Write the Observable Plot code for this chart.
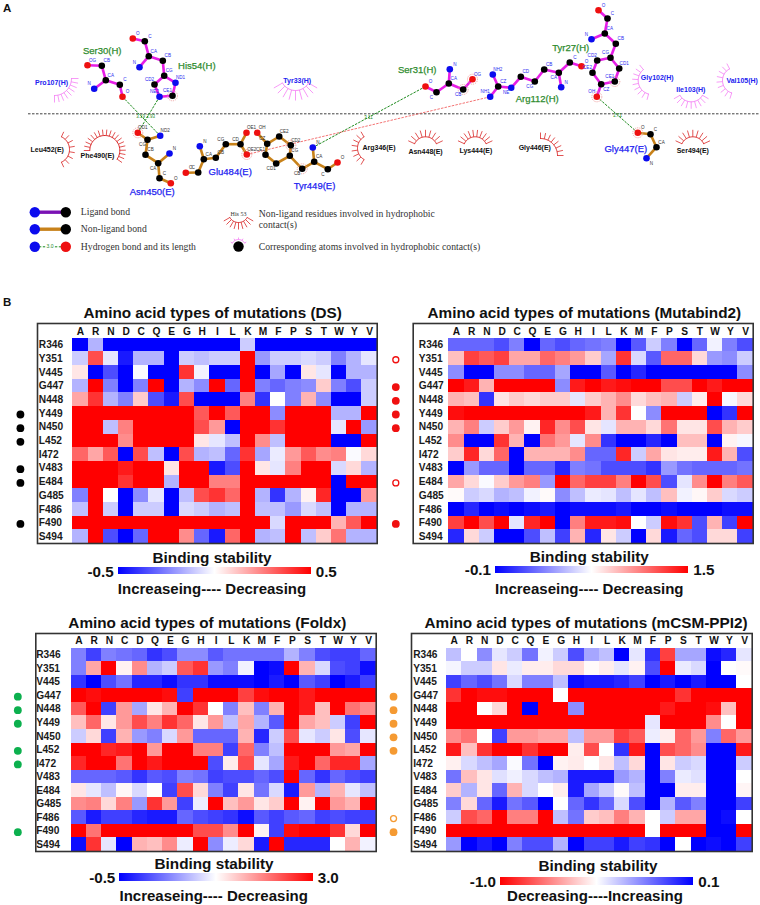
<!DOCTYPE html>
<html>
<head>
<meta charset="utf-8">
<script src="https://cdn.jsdelivr.net/npm/d3@7"></script>
<script src="https://cdn.jsdelivr.net/npm/@observablehq/plot@0.6"></script>
<style>
html,body{margin:0;padding:0;background:#fff;}
#page{position:relative;width:760px;height:905px;overflow:hidden;font-family:"Liberation Sans",Arial,sans-serif;}
#page svg{position:absolute;}
.t{position:absolute;white-space:nowrap;font-weight:bold;color:#111;line-height:1;}
.bar{position:absolute;}
</style>
</head>
<body>
<div id="page"></div>
<script>
/* ---------- heat-map categories ---------- */
const siteLabels = ["R346","Y351","V445","G447","N448","Y449","N450","L452","I472","V483","E484","G485","F486","F490","S494"];
const mutantsStd = ["A","R","N","D","C","Q","E","G","H","I","L","K","M","F","P","S","T","W","Y","V"];
const mutantsFoldx = ["A","R","N","C","D","Q","E","G","H","I","L","K","M","F","P","S","T","W","Y","V"];

/* ---------- heat-map readings, in tenths of the colour bar's half range:
   +10 full red, 0 white, -10 full blue ---------- */
const dsLevels = [
[-10,-3,-10,-10,-10,-10,-10,-10,-10,-10,-10,-2,-10,-10,-10,-10,-10,-10,-10,-10],
[-2,7,-1,-9,-3,-3,-10,-2,-2.5,-2,-2,10,-4,-2,-2,-1.5,-2,-5,-3,-1],
[1,-10,-7,-10,-0.2,-10,-10,8,-0.5,-10,-10,10,-10,-3.5,-10,1,-1,-10,-3,-3],
[-3,10,-5,-10,-5,10,-10,-3,-4.5,10,-6,10,-5,-6,-5,-4.5,2,-5,-7,-2],
[3.5,8,-3,-5,2,-7,-9,7,-10,-10,-10,5,-8,0,-5,3,-4.5,-10,-10,-2],
[10,10,10,10,10,10,10,10,6.5,10,6.5,10,10,-4.5,10,10,10,-3,-3,10],
[10,10,-2.5,5,10,10,10,10,7,4,-10,10,10,8,10,10,10,-1,10,-4],
[10,10,10,4.5,10,10,10,10,1,-1,-2.5,10,4.5,-2.5,10,10,10,-10,-10,10],
[6,3.5,6.5,-10,7,-2.5,-10,7,-3,-2.5,-6,8,-3.5,-0.8,4,6.5,4.5,5,-0.2,1.5],
[10,10,10,9,10,10,1,10,10,-9,-7,10,1,-1,5,10,10,-1.5,1.5,-3],
[10,10,10,8,10,10,-3,10,10,5,5,10,10,10,10,10,10,-10,10,10],
[-5,10,0,-10,-4.5,-1,-10,-2.5,7,8,6,10,-3,-8,-3,0.5,8.5,-10,-10,4],
[-2.5,10,-2,-10,-2,-2,-10,-1.5,-2,-3,-2.5,10,-2.5,-2.5,-4,-1.5,-2.5,-10,-3,-3],
[10,10,10,10,10,10,10,10,10,10,10,10,10,-1.5,10,10,10,3,6.5,10],
[-3,10,-7,-10,-6,10,10,4.5,-6,-9,6,10,-3,-2.5,10,-2.5,2,5.5,-3,-3]];

const mutabindLevels = [
[-6,-6,-6,-7,-5,-10,-6,-7,-6,-5.5,-5,-10,-6.5,-2,-5,-10,-6,-0.5,-5,-7],
[2.5,7.5,6.5,7.5,3.5,3.5,6,5,4,2,-3.5,8,-1.5,-6.5,6,6,1.5,-4,-4.5,-2],
[-4.5,-10,-10,-4.5,-4.5,-6,-6,-3.5,-10,-10,-6.5,-10,-8.5,-10,-10,-10,-10,-10,-10,-4.5],
[10,9,3,10,10,10,10,-4.5,9,10,9,9.5,10,10,7,7,10,9,10,10],
[3,2.5,-8,1,2,1.5,2,2,-1,2,3,4.5,1.5,2.5,3,-2,0.7,10,-0.3,1.5],
[9.5,10,10,10,10,10,10,10,10,9,3,8,0,-4.5,10,10,10,-10,-8,10],
[3,5,-2,2,4,0.5,8.5,4.5,7,1,-1,3,3,1.5,5.5,1,1,7,3,2],
[4.5,-10,-10,8,3,-10,5.5,4,-1,4.5,-8,-10,-10,-8.5,-10,2.5,2.5,-10,0.5,-0.3],
[2,8.5,1.5,6,-10,3,3,3,4.5,-6,-6,8.5,-2,3.5,1,0.7,0.7,9,3,-7],
[-10,-4,-6,-6,-10,-6,-6,-8.5,-5,-5.5,-7,-7,-7,-8,-4,-5.5,-6,-6,-6,-5.5],
[3.5,1.5,-0.2,2,4,5,-4,10,6,7.5,7.5,5,10,7,-7,-1,4.5,10,5,6.5],
[0.2,-2,-1.5,-3,-2.5,-0.5,0.2,-4.5,-2.5,-0.8,-1,-2.5,-1,-2.5,2.5,-0.5,0.3,2,-1.5,-2],
[-10,-8.5,-10,-9.5,-10,-9.5,-9,-10,-9.5,-9.5,-9.5,-9,-10,-10,-9.5,-10,-10,-10,-9.5,-9.5],
[7.5,10,7,10,-1,8.5,10,-10,5,9,9,9.5,0,-2,9.5,8,-7,3,-7.5,10],
[-8.5,1.5,-2,-10,-10,-7,-2.5,-7.5,3,-8.5,1,-2,-10,1.5,-9,-6,-7,1.5,1.5,-7.5]];

const foldxLevels = [
[-5,-7.5,-5,-5.5,-6,-8,-7,-4.5,-4.5,-6.5,-5.5,-5.5,-5.5,-5.5,-3,-5,-7,-7.5,-7.5,-6],
[-5,3.5,10,0.5,4.5,-3,-2,6.5,8,-4,-5,-0.5,-10,-9.5,10,3,-1.5,-7,-7.5,-9.5],
[-8,-10,-7,-5.5,-8.5,-8.5,-9.5,-8,-8,-9.5,-9.5,-9.5,-10,-9,-10,-6.5,-7.5,-10,-9,-7.5],
[10,9.5,10,10,10,10,9.5,-7.5,10,10,10,7.5,9.5,10,10,9,10,10,10,10],
[6.5,10,-7.5,4,-3.5,1,3,10,8,0,-5,2.5,-5,3,10,9,2.5,10,5.5,4.5],
[2.5,6,1,4,7,5,8,6,1,4,-2.5,3.5,-3,-6.5,10,3.5,2.5,-2,-7.5,10],
[-2,1.5,-7.5,3,-4,-5,-1.5,4,-6,-6,-6,3,-8.5,-2,7,-1,-2,1,-7,-1],
[10,10,8.5,9,10,4,10,10,5,5,-7.5,6,-5,-2.5,10,10,10,4,3.5,10],
[8.5,10,10,5.5,10,9,10,10,10,-7,0.8,7,-1,-3.5,9,10,6,8.5,8.5,-3.5],
[-6,-6,-6,-6.5,-8,-6.5,-7,-5,-5.5,-7.5,-7,-7,-6,-7,10,-6,-8,-6,-7,-7.5],
[1,-1,-2.5,0.3,-1.5,0,-7.5,7,1.5,-5,-7.5,1,-5.5,-1.5,-9,4,-3,3,-1,-2.5],
[4.5,5,1.5,5,-4,8,4,-7.5,-0.7,10,2.5,4,1,2,10,0.5,10,4,3,10],
[-6.5,-9,-7.5,-7.5,-8.5,-9,-9,-6,-7,-7.5,-8,-9.5,-6.5,-7.5,-6.5,-6,-7.5,-7,-7.5,-7.5],
[10,5.5,10,10,10,10,10,10,7,7,4.5,10,0.5,-7.5,9.5,10,10,8,1.5,10],
[-9.5,8,-1,-10,3,2.5,4.5,-0.7,10,-4.5,-0.7,1.5,-9,10,-8.5,-8.5,-8.5,0,3,-0.5]];

const mcsmLevels = [
[-2.5,0,-4.5,-1,-2,-5.5,-0.5,-2,-7,-3.5,-2.5,-10,-1,-8,7.5,-3.5,-3.5,-9.5,-8.5,-1],
[-0.4,-2,-2,1,-0.8,0.7,0.7,1.5,1.5,0.2,0.7,-1,0.5,-7,10,-0.8,-1.5,-10,0,0.2],
[-7.5,-6,-7,-5.5,-1.5,-5,-5,-2.5,-9.5,-9,-9,-8.5,-7.5,-10,-9,-10,-9,-10,-10,0],
[8,10,9.5,9.5,10,10,10,0,10,10,10,10,10,10,10,8,10,10,10,10],
[10,10,0,1.5,10,-10,10,10,-4.5,10,10,10,10,10,9,10,10,9.5,2.5,10],
[10,10,10,10,10,10,10,10,10,10,10,10,10,-1,10,10,10,4.5,0,10],
[4.5,5.5,0,-7.5,4,4,3.5,3.5,-2.5,4,4,7.5,6.5,-0.7,0.7,6,4,-5,6,4],
[9,2.5,8,10,10,8,10,10,0.7,7,0,-8,9,-10,7,6,4.5,-10,-10,9],
[0.6,-1.5,-2.5,-3.5,-0.2,-5.5,-10,0.5,0.8,0,1,-2.5,1.5,-10,1,-2,-1.5,-10,-10,-2],
[-5.5,2.5,1,-1.2,-0.6,-1.5,-2.5,-3,-9,-9,-9,-4,-3,-10,-5,-0.8,-1.2,-10,-10,0],
[2,-3,1,-6,3,-1.5,0,0.7,-9,-3.5,-2,0.2,-2.5,-10,-10,0.7,0.7,-10,-10,0.4],
[-5,1.5,-6,-9,-5.5,-6.5,-10,0,-6,-8,-6,-1.5,-7,-10,-3,-6.5,-5,-10,-10,-7.5],
[-2,7,6,10,5,5,10,-2.5,-5.5,2,2.5,5,3,0,-2,3.5,3.5,-10,-9.5,0],
[10,10,10,10,10,10,10,10,10,10,10,10,10,0,10,10,10,-10,-10,10],
[-4,-10,-9,-10,-5,-7,-7,-3,-10,-7.5,-7.5,-9,-7.5,-8,-10,0,-10,-9.5,-10,-7.5]];

/* ---------- sites flagged beside each heat map ---------- */
const dsSolid = ["Y449","N450","L452","V483","E484","F490"];
const mutabindSolid = ["G447","N448","Y449","N450","F490"];
const mutabindHollow = ["Y351","E484"];
const foldxSolid = ["G447","N448","Y449","L452","I472","F490"];
const mcsmSolid = ["G447","N448","Y449","N450","L452","F490"];
const mcsmHollow = ["F486"];

/* ---------- panel A: residues as drawn in the schematic (x, y in picture pixels) ---------- */
const ser30 = [["OG","O",87,64.7,"R"],["CB","C",101.3,65.3,"R"],["CA","C",105.3,79.7,"R"],["N","N",93.7,88.3,"L"],["C","C",119.3,84.3,"R"],["O","O",122,96.3,"R"]];
const ser30Bonds = [["OG","CB"],["CB","CA"],["CA","N"],["CA","C"],["C","O"]];
const his54 = [["O","O",132.3,38,"R"],["C","C",144.3,40.7,"R"],["CA","C",148.3,55.7,"R"],["N","N",139,66.7,"L"],["CB","C",162.3,60.3,"R"],["CG","C",163.7,75.3,"R"],["CD2","C",154,84,"L"],["NE2","N",159,96.3,"L"],["CE1","C",172,95.3,"L"],["ND1","N",175,82.3,"R"]];
const his54Bonds = [["O","C"],["C","CA"],["CA","N"],["CA","CB"],["CB","CG"],["CG","CD2"],["CD2","NE2"],["NE2","CE1"],["CE1","ND1"],["ND1","CG"]];
const ser31 = [["N","N",449.3,68.7,"R"],["CA","C",448.3,83,"R"],["O","O",425,86,"R"],["C","C",436,91.7,"BL"],["CB","C",462.7,89,"BL"],["OG","O",472,78.7,"R"]];
const ser31Bonds = [["N","CA"],["CA","C"],["C","O"],["CA","CB"],["CB","OG"]];
const arg112 = [["NH2","N",492.3,74,"R"],["CZ","C",497.7,86,"R"],["NH1","N",489.7,96.3,"L"],["NE","N",510.7,87.3,"BL"],["CD","C",520.3,76.3,"R"],["CG","C",534.3,81,"BL"],["CB","C",543.7,69,"R"],["CA","C",558.3,72.3,"BL"],["N","N",560.7,86.7,"R"],["C","C",569.3,62,"R"],["O","O",581,65.7,"R"]];
const arg112Bonds = [["NH2","CZ"],["NH1","CZ"],["CZ","NE"],["NE","CD"],["CD","CG"],["CG","CB"],["CB","CA"],["CA","N"],["CA","C"],["C","O"]];
const tyr27 = [["O","O",598,9.7,"R"],["C","C",607,18,"R"],["CA","C",604.3,33,"R"],["N","N",591,38.7,"L"],["CB","C",615.3,43.3,"R"],["CG","C",610,57.3,"L"],["CD2","C",596.7,60,"L"],["CE2","C",592,72.3,"L"],["CZ","C",600.7,83.7,"BR"],["CE1","C",614.3,81,"L"],["CD1","C",618.7,68,"R"],["OH","O",596.3,96.3,"L"]];
const tyr27Bonds = [["O","C"],["C","CA"],["CA","N"],["CA","CB"],["CB","CG"],["CG","CD2"],["CD2","CE2"],["CE2","CZ"],["CZ","CE1"],["CE1","CD1"],["CD1","CG"],["CZ","OH"]];
const asn450 = [["OD1","O",137.3,132.3,"R"],["ND2","N",159.7,135.3,"R"],["CG","C",147,139.3,"BL"],["CB","C",145,154.3,"R"],["CA","C",157.7,162.7,"BL"],["N","N",169,153,"R"],["C","C",159,177.7,"R"],["O","O",170.3,182.7,"R"]];
const asn450Bonds = [["OD1","CG"],["ND2","CG"],["CG","CB"],["CB","CA"],["CA","N"],["CA","C"],["C","O"]];
const glu484 = [["O","O",185.3,172.3,"R"],["C","C",197.7,172,"L"],["CA","C",203.3,158.7,"R"],["N","N",199.3,145.7,"R"],["CB","C",215.3,157.3,"R"],["CG","C",225.3,143.7,"L"],["CD","C",240,143.7,"L"],["OE1","O",246,132.3,"R"],["OE2","O",246.3,154,"R"]];
const glu484Bonds = [["O","C"],["C","CA"],["CA","N"],["CA","CB"],["CB","CG"],["CG","CD"],["CD","OE1"],["CD","OE2"]];
const tyr449 = [["OH","O",256.7,132.3,"R"],["CZ","C",266.7,143.3,"L"],["CE2","C",278.7,136,"R"],["CD2","C",290.3,144.7,"R"],["CG","C",289.3,155.3,"R"],["CD1","C",275.7,163,"BL"],["CE1","C",265,154.3,"L"],["CB","C",301.7,168.3,"BL"],["CA","C",313.7,161.3,"R"],["N","N",312.3,147,"R"],["C","C",327.3,168.7,"BL"],["O","O",337,162,"R"]];
const tyr449Bonds = [["OH","CZ"],["CZ","CE2"],["CE2","CD2"],["CD2","CG"],["CG","CD1"],["CD1","CE1"],["CE1","CZ"],["CG","CB"],["CB","CA"],["CA","N"],["CA","C"],["C","O"]];
const gly447 = [["O","O",637.3,132.3,"R"],["C","C",650,133.7,"R"],["CA","C",656,146.7,"R"],["N","N",646,157.7,"BR"]];
const gly447Bonds = [["O","C"],["C","CA"],["CA","N"]];

const ligandResidues = [[ser30,ser30Bonds],[his54,his54Bonds],[ser31,ser31Bonds],[arg112,arg112Bonds],[tyr27,tyr27Bonds]];
const otherResidues = [[asn450,asn450Bonds],[glu484,glu484Bonds],[tyr449,tyr449Bonds],[gly447,gly447Bonds]];

/* [x1, y1, x2, y2] bond between residues */
const hBonds = [[122,96.3,159.7,135.3],[159,96.3,137.3,132.3],[425,86,312.3,147],[596.3,96.3,637.3,132.3]];
const hBondLengths = [["3.19",140,116],["2.93",150,116],["3.11",368,117],["2.71",617,115]];
const saltBridges = [[489.7,96.3,246.3,154]];
const contactAtoms = [[172,95.3],[137.3,132.3],[462.7,89],[472,78.7],[301.7,168.3],[290.3,144.7],[596.3,96.3],[614.3,81],[637.3,132.3],[246.3,154]];

/* [name, colour key, cx, cy, inner r, outer r, start deg, end deg, spokes] */
const contactArcs = [
["Pro107","pink",54,78,17,24,0,90,9],
["Tyr33","pink",295,75,15,25,30,150,9],
["Leu452","red",55,149,14,19.5,-65,65,8],
["Phe490","red",104.3,150,15,21,-180,35,19],
["Arg346","red",370,147.7,13,19,120,240,8],
["Asn448","red",425,148.3,12,19,-155,-25,9],
["Lys444","red",474.7,148.3,12,19,-155,-25,10],
["Gly446","red",540,155,17,23,-90,0,8],
["Gly102","pink",651.7,80,14,20,105,231,9],
["Ile103","pink",690.7,88.3,13,20,30,150,9],
["Val105","pink",735,80,13,19,107,243,9],
["Ser494","red",692.3,148.3,12,19,-155,-25,9],
["key","red",238,212,10,17,30,150,9]];
const atomArc = [238,246,7,9,-150,-30,5];

/* [text, x, y] */
const greenNames = [["Ser30(H)",101.7,50],["His54(H)",196.3,65.7],["Ser31(H)",416.7,69.3],["Tyr27(H)",570.3,47],["Arg112(H)",536.7,98.7]];
const blueNames = [["Asn450(E)",151.7,191.7],["Glu484(E)",229.7,171.3],["Tyr449(E)",314,185.7],["Gly447(E)",625.3,148.3]];
const contactBlue = [["Pro107(H)",51,82.7],["Tyr33(H)",296.7,80.3],["Gly102(H)",656.7,77.3],["Ile103(H)",690.3,89.3],["Val105(H)",741.7,80.7]];
const contactBlack = [["Leu452(E)",46.7,149],["Phe490(E)",97,155.3],["Arg346(E)",378.5,147.5],["Asn448(E)",425,151],["Lys444(E)",475.3,150],["Gly446(E)",534.3,147],["Ser494(E)",692.3,150.7]];

/* schematic key */
const keyText = [["Ligand bond",80.3,211],["Non-ligand bond",80.3,228.7],["Hydrogen bond and its length",80.3,246],["Non-ligand residues involved in hydrophobic",258.3,213],["contact(s)",258.3,224],["Corresponding atoms involved in hydrophobic contact(s)",258.3,246]];
const keyBonds = [[34.3,211.7,65.3,211.7,"#7a12b4"],[34.3,228.7,65.3,228.7,"#c8821a"]];
const keyHBond = [[34.3,246.3,65.3,246.3]];
const keyAtoms = [[34.3,211.7,"N"],[65.3,211.7,"C"],[34.3,228.7,"N"],[65.3,228.7,"C"],[34.3,246.3,"N"],[65.3,246.3,"O"],[238,246,"C"]];

const FONT = '"Liberation Sans", Arial, sans-serif';
const page = document.getElementById("page");
const atomColor = {C:"#000",N:"#0b0bee",O:"#ee1010"};
const arcColor = {pink:"#f580f5",red:"#d92828"};
const labelShift = {R:[5,-5],L:[-5,-5],BL:[-5,5],BR:[5,5]};

function put(el,left,top){el.style.left=left+"px";el.style.top=top+"px";page.appendChild(el);return el;}

/* ---------- Panel A ---------- */
function flatten(list){
  const atoms=[],links=[];
  for(const [as,bs] of list){
    const by=new Map(as.map(a=>[a[0],a]));
    atoms.push(...as);
    for(const [p,q] of bs) links.push([by.get(p)[2],by.get(p)[3],by.get(q)[2],by.get(q)[3]]);
  }
  return {atoms,links};
}
const lig=flatten(ligandResidues), oth=flatten(otherResidues);
const arcLines=[],arcSpokes=[];
const rad=d=>d*Math.PI/180;
for(const [name,key,cx,cy,r,R,a0,a1,n] of [...contactArcs,["atom","pink",...atomArc]]){
  const N=40;
  for(let i=0;i<=N;i++){const a=rad(a0+(a1-a0)*i/N);arcLines.push({name,key,x:cx+r*Math.cos(a),y:cy+r*Math.sin(a)});}
  for(let i=0;i<n;i++){const a=rad(a0+(a1-a0)*i/(n-1));arcSpokes.push({key,x1:cx+r*Math.cos(a),y1:cy+r*Math.sin(a),x2:cx+R*Math.cos(a),y2:cy+R*Math.sin(a)});}
}
const linkXY={x1:d=>d[0],y1:d=>d[1],x2:d=>d[2],y2:d=>d[3]};
const textXY={x:d=>d[1],y:d=>d[2],text:d=>d[0]};
const atomLabel={x:d=>d[2]+labelShift[d[4]][0],y:d=>d[3]+labelShift[d[4]][1],text:d=>d[0],fontSize:4.6};
const panelA = Plot.plot({
  width:760,height:285,margin:0,
  x:{domain:[0,760],axis:null},y:{domain:[285,0],axis:null},
  style:{background:"transparent",fontFamily:FONT},
  marks:[
    Plot.ruleY([113.3],{x1:28,x2:760,stroke:"#111",strokeWidth:0.8,strokeDasharray:"2.5,1.5"}),
    Plot.link(hBonds,{...linkXY,stroke:"#1c8a1c",strokeWidth:1,strokeDasharray:"2.5,1.2"}),
    Plot.link(saltBridges,{...linkXY,stroke:"#f05050",strokeWidth:0.8,strokeDasharray:"2.5,1.2"}),
    Plot.text(hBondLengths,{...textXY,fill:"#1c8a1c",fontSize:4.5}),
    Plot.link(lig.links,{...linkXY,stroke:"#e61ee6",strokeWidth:2.6}),
    Plot.link(oth.links,{...linkXY,stroke:"#c8821a",strokeWidth:2.6}),
    Plot.dot(contactAtoms,{x:d=>d[0],y:d=>d[1],r:5,stroke:"#f0a0a0",strokeWidth:1,strokeDasharray:"1,1",fill:"none"}),
    Plot.dot(lig.atoms.concat(oth.atoms),{x:d=>d[2],y:d=>d[3],r:3.3,fill:d=>atomColor[d[1]]}),
    Plot.text(lig.atoms,{...atomLabel,fill:"#2a2af0"}),
    Plot.text(oth.atoms,{...atomLabel,fill:"#333"}),
    Plot.line(arcLines,{x:"x",y:"y",z:"name",stroke:d=>arcColor[d.key],strokeWidth:1}),
    Plot.link(arcSpokes,{x1:"x1",y1:"y1",x2:"x2",y2:"y2",stroke:d=>arcColor[d.key],strokeWidth:0.8}),
    Plot.text(greenNames,{...textXY,fill:"#2e8b2e",fontSize:9.5,stroke:"#2e8b2e",strokeWidth:0.25}),
    Plot.text(blueNames,{...textXY,fill:"#2222f0",fontSize:9.5,stroke:"#2222f0",strokeWidth:0.25}),
    Plot.text(contactBlue,{...textXY,fill:"#2222f0",fontSize:7,fontWeight:"bold"}),
    Plot.text(contactBlack,{...textXY,fill:"#111",fontSize:7,fontWeight:"bold"}),
    Plot.link(keyBonds,{...linkXY,stroke:d=>d[4],strokeWidth:3.4}),
    Plot.link(keyHBond,{...linkXY,stroke:"#1c8a1c",strokeWidth:1,strokeDasharray:"2.5,1.5"}),
    Plot.dot(keyAtoms,{x:d=>d[0],y:d=>d[1],r:5.2,fill:d=>atomColor[d[2]]}),
    Plot.text([["3.0",49.5,246]],{...textXY,fill:"#1c8a1c",fontSize:5,stroke:"#fff",strokeWidth:2,paintOrder:"stroke"}),
    Plot.text([["His 53",238,214]],{...textXY,fill:"#333",fontSize:6,fontFamily:"Liberation Serif"}),
    Plot.text(keyText,{...textXY,fill:"#333",fontSize:9.7,textAnchor:"start",fontFamily:"Liberation Serif"})
  ]
});
put(panelA,0,0);

/* ---------- Panel B heat maps ---------- */
function heat(c){
  const cells=c.levels.flatMap((row,i)=>row.map((lv,j)=>({
    site:siteLabels[i],mutant:c.columns[j],
    value:c.mid+c.sign*lv/10*c.half})));
  const mL=c.cellLeft-c.svgLeft,mT=c.cellTop-c.frameTop+3,mR=c.svgLeft+c.svgWidth-c.cellRight,mB=3;
  const svg=Plot.plot({
    width:c.svgWidth,height:mT+(c.cellBottom-c.cellTop)+mB,
    marginLeft:mL,marginTop:mT,marginRight:mR,marginBottom:mB,
    x:{domain:c.columns,padding:0,round:false,axis:null},
    y:{domain:siteLabels,padding:0,round:false,axis:null},
    color:{type:"linear",domain:c.colorDomain,range:c.colorRange,interpolate:"rgb",clamp:true},
    style:{background:"transparent",fontFamily:FONT,overflow:"visible"},
    marks:[
      Plot.cell(cells,{x:"mutant",y:"site",fill:"value",shapeRendering:"crispEdges"}),
      Plot.text(c.columns,{x:d=>d,y:()=>siteLabels[0],text:d=>d,dy:-13.8,fontWeight:"bold",fontSize:10.2,fill:"#111"}),
      Plot.text(siteLabels,{x:()=>c.columns[0],y:d=>d,text:d=>d,dx:c.rowDx,textAnchor:"start",fontWeight:"bold",fontSize:10.2,fill:"#1a1a1a"}),
      Plot.dot(c.solid,{x:()=>c.columns[0],y:d=>d,dx:c.dotDx,dy:1,r:3.9,fill:c.dot}),
      Plot.dot(c.hollow||[],{x:()=>c.columns[0],y:d=>d,dx:c.dotDx,dy:1,r:3,fill:"#fff",stroke:c.dot,strokeWidth:1.3}),
      Plot.frame({insetLeft:-(c.cellLeft-c.frameLeft),insetTop:-(c.cellTop-c.frameTop),stroke:"#333",strokeWidth:1.6})
    ]
  });
  put(svg,c.svgLeft,c.frameTop-3);

  const txt=(s,x,y,size,anchor)=>{
    const el=document.createElement("div");el.className="t";el.textContent=s;el.style.fontSize=size+"px";
    const tx=anchor==="end"?"-100%":anchor==="start"?"0":"-50%";
    el.style.transform=`translate(${tx},-78%)`;
    put(el,x,y);
  };
  txt(c.title,c.titleX,c.titleY,15.3);
  txt("Binding stability",c.bsX,c.bsY,15.3);
  txt(c.caption,c.capX,c.capY,15);
  const bar=document.createElement("div");bar.className="bar";
  bar.style.width=(c.barRight-c.barLeft)+"px";bar.style.height=(c.barBottom-c.barTop)+"px";
  bar.style.background=`linear-gradient(to right,${c.colorRange.join(",")})`;
  put(bar,c.barLeft,c.barTop);
  txt(c.minLabel,c.barLeft-4,c.legendY,15.2,"end");
  txt(c.maxLabel,c.barRight+5,c.legendY,15.2,"start");
}
const BWR=["#0000ff","#ffffff","#ff0000"], RWB=["#ff0000","#ffffff","#0000ff"];
heat({levels:dsLevels,columns:mutantsStd,mid:0,half:0.5,sign:1,colorDomain:[-0.5,0,0.5],colorRange:BWR,
  svgLeft:0,svgWidth:380,frameLeft:37,frameTop:323,cellLeft:72.3,cellRight:376.7,cellTop:337.7,cellBottom:543,
  rowDx:-41.6,dotDx:-60,dot:"#000",solid:dsSolid,
  title:"Amino acid types of mutations (DS)",titleX:212.7,titleY:317,bsX:212,bsY:561.7,
  caption:"Increaseing---- Decreasing",capX:212,capY:593,barLeft:117.7,barRight:310.7,barTop:566.7,barBottom:574.3,
  minLabel:"-0.5",maxLabel:"0.5",legendY:575.7});
heat({levels:mutabindLevels,columns:mutantsStd,mid:0.7,half:0.8,sign:1,colorDomain:[-0.1,0.7,1.5],colorRange:BWR,
  svgLeft:380,svgWidth:380,frameLeft:412.7,frameTop:323,cellLeft:448.3,cellRight:752.7,cellTop:337.7,cellBottom:543,
  rowDx:-37.6,dotDx:-60.6,dot:"#f01010",solid:mutabindSolid,hollow:mutabindHollow,
  title:"Amino acid types of mutations (Mutabind2)",titleX:584.3,titleY:317,bsX:589.3,bsY:560.7,
  caption:"Increaseing---- Decreasing",capX:589.3,capY:592.7,barLeft:495,barRight:688.3,barTop:566,barBottom:573.3,
  minLabel:"-0.1",maxLabel:"1.5",legendY:574.3});
heat({levels:foldxLevels,columns:mutantsFoldx,mid:1.25,half:1.75,sign:1,colorDomain:[-0.5,1.25,3],colorRange:BWR,
  svgLeft:0,svgWidth:380,frameLeft:35.3,frameTop:633,cellLeft:70.7,cellRight:375.7,cellTop:647.7,cellBottom:851,
  rowDx:-42.6,dotDx:-61,dot:"#0cb04e",solid:foldxSolid,
  title:"Amino acid types of mutations (Foldx)",titleX:207.3,titleY:626.7,bsX:214,bsY:868.3,
  caption:"Increaseing---- Decreasing",capX:213.7,capY:900.3,barLeft:119.3,barRight:312.7,barTop:873.3,barBottom:881,
  minLabel:"-0.5",maxLabel:"3.0",legendY:881.7});
heat({levels:mcsmLevels,columns:mutantsStd,mid:-0.45,half:0.55,sign:-1,colorDomain:[-1,-0.45,0.1],colorRange:RWB,
  svgLeft:380,svgWidth:380,frameLeft:411,frameTop:633,cellLeft:446,cellRight:751.7,cellTop:647.7,cellBottom:851,
  rowDx:-41,dotDx:-60.6,dot:"#f59a32",solid:mcsmSolid,hollow:mcsmHollow,
  title:"Amino acid types of mutations (mCSM-PPI2)",titleX:586,titleY:626.7,bsX:598,bsY:870,
  caption:"Decreasing----Increasing",capX:595,capY:900.3,barLeft:500,barRight:693.3,barTop:877.3,barBottom:885,
  minLabel:"-1.0",maxLabel:"0.1",legendY:886});

/* panel letters */
for(const [s,x,y] of [["A",3,12],["B",3,306]]){
  const el=document.createElement("div");el.className="t";el.textContent=s;el.style.fontSize="11.5px";el.style.transform="translate(0,-78%)";put(el,x,y);
}
</script>
</body>
</html>
